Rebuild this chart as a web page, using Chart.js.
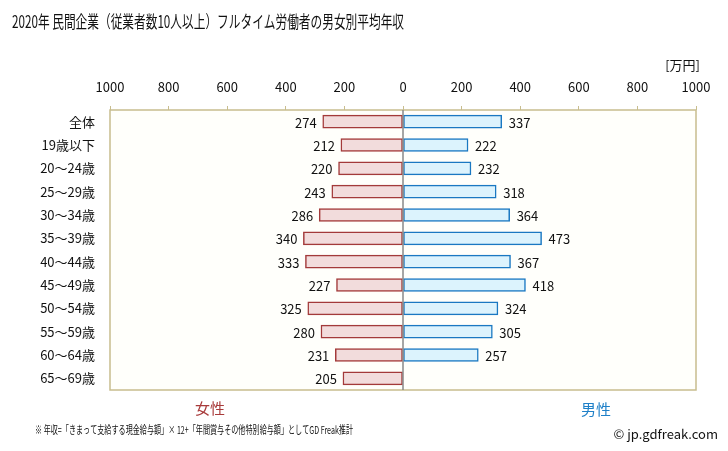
<!DOCTYPE html>
<html><head><meta charset="utf-8">
<script src="https://cdn.jsdelivr.net/npm/chart.js@4.4.0/dist/chart.umd.min.js"></script>
<style>html,body{margin:0;padding:0;background:#fff}#wrap{width:728px;height:451px;position:relative}</style>
</head><body><div id="wrap"><canvas id="c" width="728" height="451"></canvas></div>
<script>
const categories = ['全体','19歳以下','20～24歳','25～29歳','30～34歳','35～39歳','40～44歳','45～49歳','50～54歳','55～59歳','60～64歳','65～69歳'];
const female = [274,212,220,243,286,340,333,227,325,280,231,205];
const male = [337,222,232,318,364,473,367,418,324,305,257,null];
const tickValues = [-1000,-800,-600,-400,-200,0,200,400,600,800,1000];
const title = '2020年 民間企業（従業者数10人以上）フルタイム労働者の男女別平均年収';
const note = '※ 年収=「きまって支給する現金給与額」× 12+「年間賞与その他特別給与額」としてGD Freak推計';
const FONT = '"Noto Sans CJK JP", "Noto Sans", sans-serif';

const extras = {
  id:'extras',
  beforeDatasetsDraw(chart){
    const {ctx, chartArea:a} = chart;
    ctx.save();
    ctx.fillStyle = '#fffffb';
    ctx.fillRect(a.left, a.top, a.right-a.left, a.bottom-a.top);
    ctx.restore();
  },
  afterDatasetsDraw(chart){
    const {ctx, chartArea:a, scales} = chart;
    const x0 = scales.x.getPixelForValue(0);
    ctx.save();
    ctx.strokeStyle = '#c8bd8e'; ctx.lineWidth = 1.5;
    ctx.strokeRect(a.left, a.top, a.right-a.left, a.bottom-a.top);
    ctx.strokeStyle = '#888'; ctx.lineWidth = 1.5;
    ctx.beginPath(); ctx.moveTo(x0, a.top); ctx.lineTo(x0, a.bottom); ctx.stroke();
    // value labels
    ctx.font = '13px ' + FONT; ctx.fillStyle = '#111'; ctx.textBaseline = 'middle';
    chart.data.datasets.forEach((ds, di) => {
      const meta = chart.getDatasetMeta(di);
      meta.data.forEach((bar, i) => {
        const v = ds.data[i];
        if (v === null || v === undefined) return;
        if (v < 0) { ctx.textAlign = 'right'; ctx.fillText(String(-v), bar.x - 6, bar.y + 1); }
        else { ctx.textAlign = 'left'; ctx.fillText(String(v), bar.x + 7, bar.y + 1); }
      });
    });
    // texts
    ctx.textAlign = 'left'; ctx.textBaseline = 'middle';
    ctx.font = '17px ' + FONT; ctx.fillStyle = '#111';
    ctx.fillText(title, 12, 22, 392);
    ctx.font = '13px ' + FONT; ctx.textAlign = 'right';
    ctx.fillText('[万円]', 700, 65);
    ctx.textAlign = 'center'; ctx.font = '15px ' + FONT;
    ctx.fillStyle = '#a83a3a'; ctx.fillText('女性', 210, 408);
    ctx.fillStyle = '#1f80c8'; ctx.fillText('男性', 596, 409);
    ctx.textAlign = 'left'; ctx.fillStyle = '#111'; ctx.font = '11px ' + FONT;
    ctx.fillText(note, 35, 430, 318);
    ctx.textAlign = 'right'; ctx.font = '13px ' + FONT;
    ctx.fillText('© jp.gdfreak.com', 718, 434);
    ctx.restore();
  }
};

new Chart(document.getElementById('c'), {
  type:'bar',
  data:{
    labels: categories,
    datasets:[
      {label:'女性', data: female.map(v => -v), backgroundColor:'#f2dcdc', borderColor:'#a33a3a', borderWidth:1.5, borderSkipped:false, barThickness:13},
      {label:'男性', data: male, backgroundColor:'#dcf3fd', borderColor:'#1a78c2', borderWidth:1.5, borderSkipped:false, barThickness:13}
    ]
  },
  options:{
    indexAxis:'y', responsive:false, animation:false,
    layout:{padding:{left:0, right:32, top:0, bottom:61}},
    plugins:{legend:{display:false}, tooltip:{enabled:false}, title:{display:false}},
    scales:{
      x:{
        position:'top', stacked:true, min:-1000, max:1000,
        afterBuildTicks(s){ s.ticks = tickValues.map(v => ({value:v})); },
        afterFit(s){ s.height = 110; },
        ticks:{ callback:v => String(Math.abs(v)), font:{size:13, family:FONT}, color:'#111', padding:11, maxRotation:0 },
        grid:{ drawOnChartArea:false, drawTicks:true, tickLength:4, color:'#c8bd8e' },
        border:{ display:false }
      },
      y:{
        stacked:true,
        afterFit(s){ s.width = 110; },
        ticks:{ font:{size:13, family:FONT}, color:'#111', padding:15 },
        grid:{ display:false, drawTicks:false },
        border:{ display:false }
      }
    }
  },
  plugins:[extras]
});
</script></body></html>
